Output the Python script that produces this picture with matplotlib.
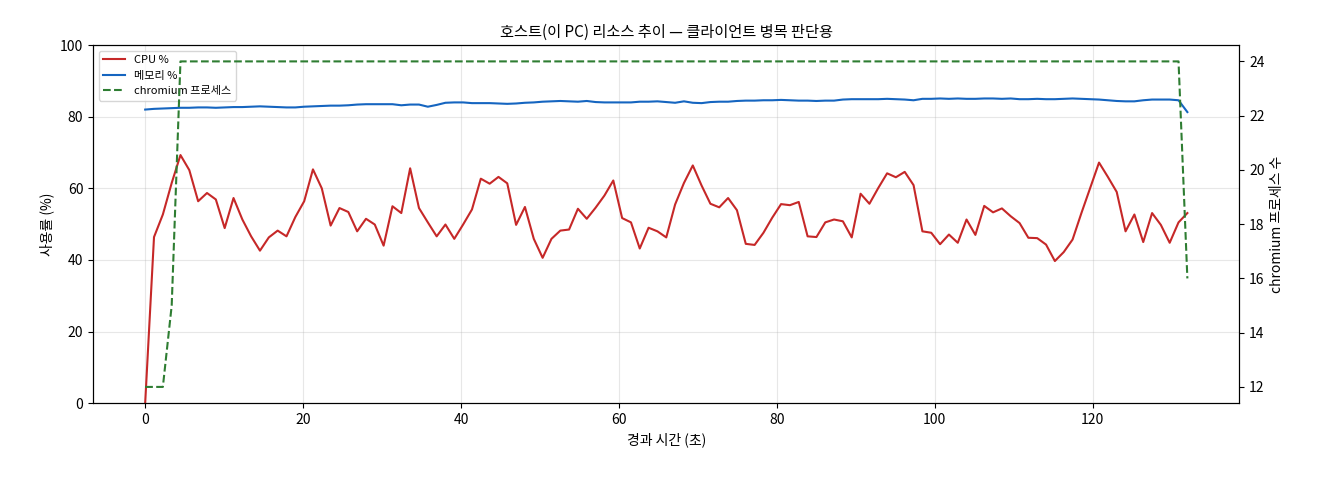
import numpy as np
import matplotlib
matplotlib.use("Agg")
import matplotlib.pyplot as plt

plt.rcParams['font.family'] = ['Noto Sans CJK KR', 'DejaVu Sans']

t = np.round(np.linspace(0, 132, 119), 2)

cpu = [0, 46.4, 52.7, 61.5, 69.3, 65.1, 56.4, 58.7, 56.9, 48.9,
       57.3, 51.3, 46.6, 42.6, 46.3, 48.2, 46.6, 52.0, 56.4, 65.3,
       60.0, 49.6, 54.5, 53.4, 48.0, 51.5, 49.9, 44.0, 55.0, 53.1,
       65.6, 54.5, 50.5, 46.6, 49.9, 45.9, 49.9, 54.1, 62.7, 61.3,
       63.2, 61.4, 49.8, 54.8, 45.9, 40.6, 45.9, 48.2, 48.5, 54.3,
       51.5, 54.6, 58.0, 62.2, 51.7, 50.5, 43.2, 49.0,
       48.0, 46.3, 55.5, 61.5, 66.4, 60.8, 55.7, 54.7, 57.3, 53.9,
       44.5, 44.2, 47.6, 51.8, 55.6, 55.3, 56.2, 46.6, 46.4, 50.5,
       51.3, 50.8, 46.3, 58.5, 55.7, 60.1, 64.2, 63.1, 64.6, 60.9,
       48.0, 47.6, 44.4, 47.1, 44.8, 51.3, 47.0, 55.1, 53.3, 54.4,
       52.2, 50.3, 46.2, 46.1, 44.3, 39.7, 42.2, 45.7, 53.1, 60.1,
       67.2, 63.2, 59.0, 48.0, 52.7, 45.0, 53.1, 49.8, 44.8, 50.5,
       53.1]

mem = [82.0, 82.2, 82.3, 82.4, 82.5,
       82.5, 82.6, 82.6, 82.5, 82.6, 82.7, 82.7, 82.8, 82.9, 82.8, 82.7, 82.6, 82.6, 82.8, 82.9,
       83.0, 83.1, 83.1, 83.2, 83.4, 83.5, 83.5, 83.5, 83.5, 83.2, 83.4,
       83.4, 82.8, 83.3, 83.9, 84.0, 84.0, 83.8, 83.8, 83.8, 83.7,
       83.6, 83.7, 83.9, 84.0, 84.2, 84.3, 84.4, 84.3, 84.2, 84.4, 84.1, 84.0, 84.0, 84.0, 84.0,
       84.2, 84.2, 84.3, 84.1, 83.9, 84.3, 83.9, 83.8, 84.1, 84.2, 84.2, 84.4, 84.5, 84.5, 84.6,
       84.6, 84.7, 84.6, 84.5, 84.5, 84.4, 84.5, 84.5, 84.8, 84.9, 84.9, 84.9, 84.9, 85.0, 84.9,
       84.8, 84.6, 85.0, 85.0, 85.1, 85.0, 85.1, 85.0, 85.0, 85.1, 85.1, 85.0, 85.1, 84.9, 84.9,
       85.0, 84.9, 84.9, 85.0, 85.1, 85.0, 84.9, 84.8, 84.6, 84.4, 84.3, 84.3, 84.6, 84.8, 84.8, 84.8, 84.6,
       81.3]

procs = [12, 12, 12, 15] + [24] * 114 + [16]

fig, ax = plt.subplots(figsize=(13.2, 4.8), dpi=100)
l1, = ax.plot(t, cpu, color='#c62828', lw=1.5, label='CPU %')
l2, = ax.plot(t, mem, color='#1565c0', lw=1.5, label='메모리 %')
ax.set_ylim(0, 100)
ax.set_xlim(-6.6, 138.6)
ax.set_xlabel('경과 시간 (초)')
ax.set_ylabel('사용률 (%)')
ax.grid(True, alpha=0.3)
ax2 = ax.twinx()
l3, = ax2.plot(t, procs, color='#2e7d32', lw=1.5, ls='--', label='chromium 프로세스')
ax2.set_ylabel('chromium 프로세스 수')
ax2.set_ylim(11.4, 24.6)
ax.set_title('호스트(이 PC) 리소스 추이 — 클라이언트 병목 판단용', fontsize=11)
ax.legend(handles=[l1, l2, l3], loc='upper left', fontsize=8)
fig.subplots_adjust(left=0.0705, right=0.939, top=0.906, bottom=0.16)
fig.savefig('out.png')
